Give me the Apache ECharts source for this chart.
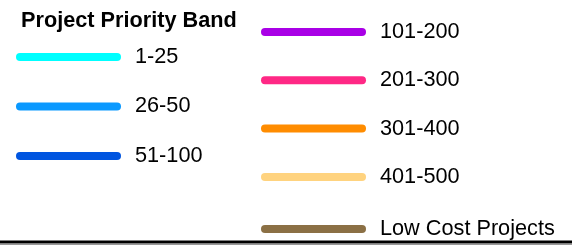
<!DOCTYPE html>
<html>
<head>
<meta charset="utf-8">
<script src="https://cdn.jsdelivr.net/npm/echarts@6/dist/echarts.min.js"></script>
<style>
  html, body { margin: 0; padding: 0; background: #fff; }
  #chart { width: 572px; height: 248px; }
</style>
</head>
<body>
<div id="chart"></div>
<script>
// legend entries, in the order they appear
var legendTitle = 'Project Priority Band'
var leftBands = ['1-25', '26-50', '51-100']
var rightBands = ['101-200', '201-300', '301-400', '401-500']
var extraBands = ['Low Cost Projects']

var palette = ['#00FFFF', '#0A99FF', '#0055E0', '#A900E6', '#FF2885', '#FF8C00', '#FFD37F', '#8B7045']

var allBands = leftBands.concat(rightBands, extraBands)

// pill shaped swatch
var pill = 'path://M4,0 L101,0 A4,4 0 0 1 101,8 L4,8 A4,4 0 0 1 4,0 Z'

function legendBox(names, left, top, gap) {
  return {
    data: names,
    orient: 'vertical',
    left: left,
    top: top,
    padding: 0,
    itemGap: gap,
    itemWidth: 105,
    itemHeight: 8,
    icon: pill,
    selectedMode: false,
    textStyle: {
      fontFamily: 'Liberation Sans, Arial, sans-serif',
      fontSize: 21.7,
      lineHeight: 22,
      color: '#000',
      padding: [0, 0, 0, 9]
    }
  }
}

var chart = echarts.init(document.getElementById('chart'))
chart.setOption({
  animation: false,
  color: palette,
  title: {
    text: legendTitle,
    left: 21,
    top: 10,
    padding: 0,
    textStyle: {
      fontFamily: 'Liberation Sans, Arial, sans-serif',
      fontSize: 21.7,
      fontWeight: 'bold',
      color: '#000'
    }
  },
  legend: [
    legendBox(leftBands, 16, 46, 27.5),
    legendBox(rightBands, 261, 21, 26.3),
    legendBox(extraBands, 261, 218, 0)
  ],
  grid: { show: false, left: 0, right: 0, top: 0, bottom: 0 },
  xAxis: { type: 'category', show: false, data: [] },
  yAxis: { type: 'value', show: false },
  series: allBands.map(function(name) {
    return { name: name, type: 'line', data: [], lineStyle: { width: 8 } }
  }),
  graphic: [
    { type: 'line', silent: true, shape: { x1: 0, y1: 242, x2: 572, y2: 242 }, style: { stroke: '#000', lineWidth: 3 } },
    { type: 'line', silent: true, shape: { x1: 0, y1: 244.5, x2: 572, y2: 244.5 }, style: { stroke: '#999', lineWidth: 1 } }
  ]
})
</script>
</body>
</html>
